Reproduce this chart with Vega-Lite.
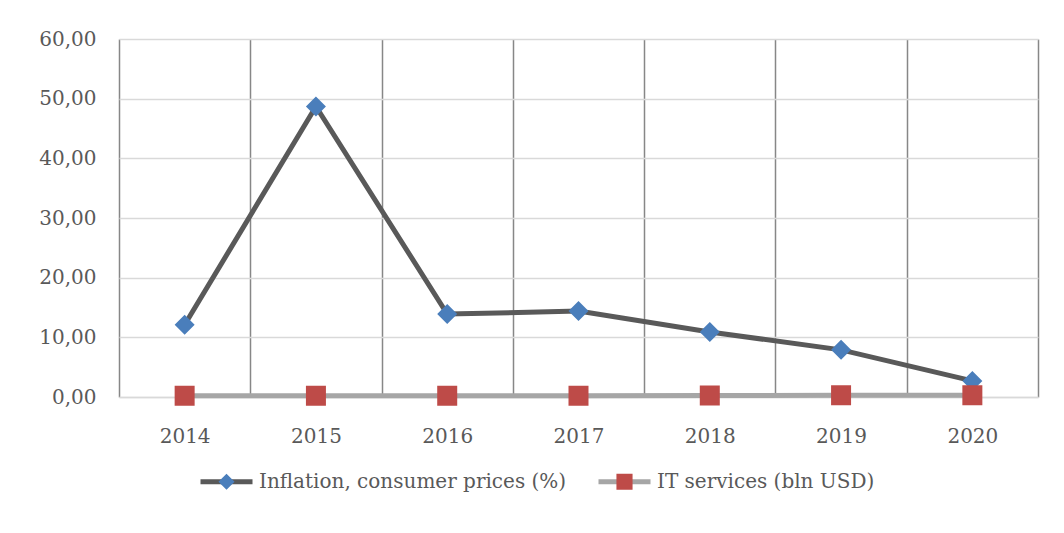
{
  "$schema": "https://vega.github.io/schema/vega-lite/v6.json",
  "width": 919,
  "height": 358,
  "autosize": {"type": "none"},
  "padding": {"left": 119, "top": 39, "right": 26, "bottom": 136},
  "background": "white",
  "config": {
    "view": {"stroke": null},
    "locale": {"number": {"decimal": ",", "thousands": " ", "grouping": [3], "currency": ["", ""]}},
    "font": "DejaVu Serif"
  },
  "data": {
    "values": [
      {"year": "2014", "series": "Inflation, consumer prices (%)", "value": 12.1},
      {"year": "2015", "series": "Inflation, consumer prices (%)", "value": 48.7},
      {"year": "2016", "series": "Inflation, consumer prices (%)", "value": 13.9},
      {"year": "2017", "series": "Inflation, consumer prices (%)", "value": 14.4},
      {"year": "2018", "series": "Inflation, consumer prices (%)", "value": 10.9},
      {"year": "2019", "series": "Inflation, consumer prices (%)", "value": 7.9},
      {"year": "2020", "series": "Inflation, consumer prices (%)", "value": 2.7},
      {"year": "2014", "series": "IT services (bln USD)", "value": 0.2},
      {"year": "2015", "series": "IT services (bln USD)", "value": 0.2},
      {"year": "2016", "series": "IT services (bln USD)", "value": 0.2},
      {"year": "2017", "series": "IT services (bln USD)", "value": 0.2},
      {"year": "2018", "series": "IT services (bln USD)", "value": 0.25},
      {"year": "2019", "series": "IT services (bln USD)", "value": 0.3},
      {"year": "2020", "series": "IT services (bln USD)", "value": 0.3}
    ]
  },
  "encoding": {
    "x": {
      "field": "year",
      "type": "ordinal",
      "scale": {"type": "band", "paddingInner": 0, "paddingOuter": 0},
      "axis": {
        "title": null,
        "labelAngle": 0,
        "labelFont": "DejaVu Serif",
        "labelFontSize": 20,
        "labelColor": "#595959",
        "labelPadding": 29,
        "ticks": false,
        "tickBand": "extent",
        "grid": true,
        "gridColor": "#878787",
        "gridWidth": 1.5,
        "domain": true,
        "domainColor": "#d9d9d9",
        "domainWidth": 1.5,
        "zindex": 0
      }
    },
    "y": {
      "field": "value",
      "type": "quantitative",
      "scale": {"domain": [0, 60], "nice": false},
      "axis": {
        "title": null,
        "values": [0, 10, 20, 30, 40, 50, 60],
        "format": ".2f",
        "labelFont": "DejaVu Serif",
        "labelFontSize": 20,
        "labelColor": "#595959",
        "labelPadding": 23,
        "ticks": false,
        "domain": false,
        "grid": true,
        "gridColor": "#d9d9d9",
        "gridWidth": 1.5
      }
    }
  },
  "layer": [
    {
      "mark": {"type": "line", "strokeWidth": 5},
      "encoding": {
        "stroke": {
          "field": "series",
          "type": "nominal",
          "scale": {
            "domain": ["Inflation, consumer prices (%)", "IT services (bln USD)"],
            "range": ["#595959", "#a6a6a6"]
          },
          "legend": {
            "title": null,
            "orient": "none",
            "legendX": 79,
            "legendY": 414,
            "direction": "horizontal",
            "padding": 0,
            "symbolType": "stroke",
            "symbolSize": 2704,
            "symbolStrokeWidth": 5,
            "labelFont": "DejaVu Serif",
            "labelFontSize": 20,
            "labelColor": "#595959",
            "labelOpacity": 0,
            "labelOffset": 4,
            "columnPadding": 21,
            "labelLimit": 500,
            "zindex": 0
          }
        }
      }
    },
    {
      "mark": {"type": "point", "filled": true, "opacity": 1, "size": 4160, "strokeWidth": 0},
      "encoding": {
        "fill": {
          "field": "series",
          "type": "nominal",
          "sort": "descending",
          "scale": {"range": ["#4a7ebb", "#be4b48"]},
          "legend": {
            "title": null,
            "orient": "none",
            "legendX": 79,
            "legendY": 414,
            "direction": "horizontal",
            "padding": 0,
            "symbolSize": 2704,
            "symbolStrokeWidth": 5,
            "symbolStrokeColor": "transparent",
            "labelFont": "DejaVu Serif",
            "labelFontSize": 20,
            "labelColor": "#595959",
            "labelOffset": 4,
            "columnPadding": 21,
            "labelLimit": 500,
            "zindex": 1
          }
        },
        "shape": {
          "field": "series",
          "type": "nominal",
          "sort": "descending",
          "scale": {"range": ["M-1,0L1,0M0,-0.31L0.31,0L0,0.31L-0.31,0Z", "M-1,0L1,0M-0.31,-0.31H0.31V0.31H-0.31Z"]},
          "legend": {
            "title": null,
            "orient": "none",
            "legendX": 79,
            "legendY": 414,
            "direction": "horizontal",
            "padding": 0,
            "symbolSize": 2704,
            "symbolStrokeWidth": 5,
            "symbolStrokeColor": "transparent",
            "labelFont": "DejaVu Serif",
            "labelFontSize": 20,
            "labelColor": "#595959",
            "labelOffset": 4,
            "columnPadding": 21,
            "labelLimit": 500,
            "zindex": 1
          }
        }
      }
    }
  ]
}
